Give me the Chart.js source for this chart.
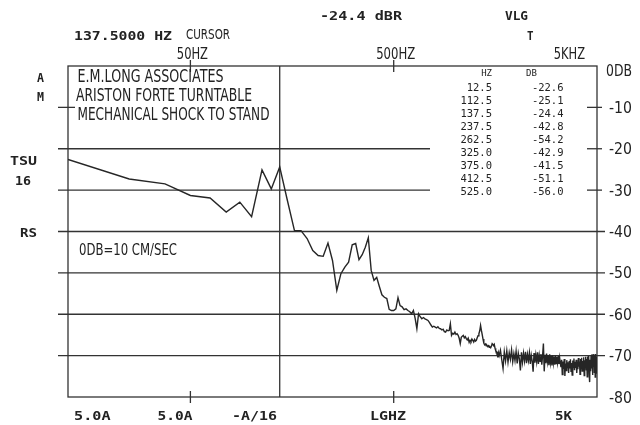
<!DOCTYPE html>
<html lang="en">
<head>
  <meta charset="UTF-8" />
  <title>Ariston Forte turntable - mechanical shock to stand</title>
  <script src="https://cdn.jsdelivr.net/npm/chart.js"></script>
  <style>
    html, body { margin: 0; padding: 0; background: #fff; }
    #wrap { width: 640px; height: 425px; }
  </style>
</head>
<body>
  <div id="wrap"><canvas id="grafico" width="640" height="425"></canvas></div>

  <script>
    // spectrum, 12.5 Hz bins up to 1637.5 Hz
    const bandHz = [
      12.5, 25, 37.5, 50, 62.5, 75, 87.5, 100, 112.5, 125,
      137.5, 150, 162.5, 175, 187.5, 200, 212.5, 225, 237.5, 250,
      262.5, 275, 287.5, 300, 312.5, 325, 337.5, 350, 362.5, 375,
      387.5, 400, 412.5, 425, 437.5, 450, 462.5, 475, 487.5, 500,
      512.5, 525, 537.5, 550, 562.5, 575, 587.5, 600, 612.5, 625,
      637.5, 650, 662.5, 675, 687.5, 700, 712.5, 725, 737.5, 750,
      762.5, 775, 787.5, 800, 812.5, 825, 837.5, 850, 862.5, 875,
      887.5, 900, 912.5, 925, 937.5, 950, 962.5, 975, 987.5, 1000,
      1012.5, 1025, 1037.5, 1050, 1062.5, 1075, 1087.5, 1100, 1112.5, 1125,
      1137.5, 1150, 1162.5, 1175, 1187.5, 1200, 1212.5, 1225, 1237.5, 1250,
      1262.5, 1275, 1287.5, 1300, 1312.5, 1325, 1337.5, 1350, 1362.5, 1375,
      1387.5, 1400, 1412.5, 1425, 1437.5, 1450, 1462.5, 1475, 1487.5, 1500,
      1512.5, 1525, 1537.5, 1550, 1562.5, 1575, 1587.5, 1600, 1612.5, 1625,
      1637.5
    ];
    const bandDb = [
      -22.6, -27.3, -28.5, -31.3, -31.9, -35.3, -32.9, -36.4, -25.1, -29.7,
      -24.4, -32.5, -39.8, -39.8, -41.7, -44.6, -45.8, -46.0, -42.8, -47.0,
      -54.2, -50.2, -48.6, -47.4, -43.2, -42.9, -46.8, -45.6, -43.8, -41.5,
      -49.4, -51.8, -51.1, -53.3, -55.3, -55.9, -56.2, -58.8, -59.1, -59.1,
      -58.7, -56.0, -57.9, -58.2, -58.9, -58.7, -59.1, -59.4, -59.9, -59.1,
      -61.0, -63.5, -59.9, -60.6, -61.1, -60.8, -61.1, -61.3, -61.5, -62.0,
      -62.6, -63.1, -62.9, -63.1, -63.3, -63.0, -63.4, -63.5, -63.8, -63.6,
      -64.2, -64.3, -63.8, -64.0, -63.9, -62.3, -65.1, -64.6, -64.8, -64.3,
      -64.9, -64.7, -65.1, -65.8, -67.1, -65.6, -65.3, -65.1, -65.7, -65.4,
      -65.9, -66.2, -65.8, -66.8, -66.3, -66.6, -66.0, -66.3, -66.7, -66.1,
      -66.5, -66.3, -65.7, -65.2, -64.7, -64.0, -62.7, -63.9, -64.9, -66.0,
      -67.0, -67.4, -67.2, -67.6, -67.5, -67.8, -67.6, -68.0, -67.9, -68.1,
      -67.7, -67.1, -67.3, -67.6, -67.3, -68.2, -68.8, -69.0, -69.2, -70.4,
      -69.3
    ];

    // noisy top end, read every 25 Hz
    const hfHz = [
      1650, 1675, 1700, 1725, 1750, 1775, 1800, 1825, 1850, 1875,
      1900, 1925, 1950, 1975, 2000, 2025, 2050, 2075, 2100, 2125,
      2150, 2175, 2200, 2225, 2250, 2275, 2300, 2325, 2350, 2375,
      2400, 2425, 2450, 2475, 2500, 2525, 2550, 2575, 2600, 2625,
      2650, 2675, 2700, 2725, 2750, 2775, 2800, 2825, 2850, 2875,
      2900, 2925, 2950, 2975, 3000, 3025, 3050, 3075, 3100, 3125,
      3150, 3175, 3200, 3225, 3250, 3275, 3300, 3325, 3350, 3375,
      3400, 3425, 3450, 3475, 3500, 3525, 3550, 3575, 3600, 3625,
      3650, 3675, 3700, 3725, 3750, 3775, 3800, 3825, 3850, 3875,
      3900, 3925, 3950, 3975, 4000, 4025, 4050, 4075, 4100, 4125,
      4150, 4175, 4200, 4225, 4250, 4275, 4300, 4325, 4350, 4375,
      4400, 4425, 4450, 4475, 4500, 4525, 4550, 4575, 4600, 4625,
      4650, 4675, 4700, 4725, 4750, 4775, 4800, 4825, 4850, 4875,
      4900, 4925, 4950, 4975, 5000
    ];
    const hfDb = [
      -70.0, -68.7, -71.0, -73.1, -69.1, -71.3, -68.8, -71.6, -69.3, -70.9,
      -68.6, -71.5, -69.5, -71.2, -68.9, -71.9, -69.4, -70.8, -73.6, -69.2,
      -71.6, -69.4, -71.3, -69.1, -71.8, -69.7, -71.2, -69.3, -72.0, -69.9,
      -71.3, -73.9, -69.4, -71.7, -69.8, -71.5, -69.2, -72.0, -69.9, -71.4,
      -69.6, -72.2, -70.0, -67.1, -73.8, -69.8, -71.8, -69.5, -71.5, -69.9,
      -72.3, -69.7, -71.7, -70.1, -72.4, -69.9, -71.8, -70.2, -72.2, -70.0,
      -71.9, -70.3, -71.7, -70.1, -72.0, -70.5, -71.8, -72.8, -71.0, -74.6,
      -71.4, -73.2, -70.8, -74.9, -71.9, -73.6, -71.1, -72.9, -71.6, -74.2,
      -71.3, -73.1, -70.9, -73.8, -71.8, -74.7, -71.2, -72.8, -70.7, -73.5,
      -71.5, -73.0, -71.0, -74.2, -71.7, -73.3, -70.6, -72.7, -71.4, -74.5,
      -70.8, -73.1, -70.5, -73.7, -71.3, -72.6, -70.4, -74.8, -71.1, -72.9,
      -70.3, -73.4, -70.8, -75.1, -70.2, -73.0, -70.1, -74.3, -76.4, -71.0,
      -73.8, -69.9, -73.1, -69.7, -74.7, -70.4, -72.6, -69.6, -74.0, -70.0,
      -75.2, -69.6, -73.2, -70.2, -74.4
    ];

    // peak table printed at top right
    const peakHz = [12.5, 112.5, 137.5, 237.5, 262.5, 325.0, 375.0, 412.5, 525.0];
    const peakDb = [-22.6, -25.1, -24.4, -42.8, -54.2, -42.9, -41.5, -51.1, -56.0];

    // axes
    const dbTicks = [0, -10, -20, -30, -40, -50, -60, -70, -80];
    const dbTickLabels = ['0DB', '-10', '-20', '-30', '-40', '-50', '-60', '-70', '-80'];
    const freqTicks = [50, 500, 5000];
    const freqTickLabels = ['50HZ', '500HZ', '5KHZ'];
    const softKeys = ['5.0A', '5.0A', '-A/16', 'LGHZ', '5K'];

    const cursorHz = 137.5;
    const cursorDb = -24.4;

    const INK = '#333';
    const SANS = '"DejaVu Sans", sans-serif';
    const MONO = '"DejaVu Sans Mono", monospace';

    // draws text squeezed to a given width (plotter lettering is narrow)
    function fitText(ctx, txt, left, base, w, font) {
      ctx.save();
      ctx.font = font;
      const m = ctx.measureText(txt).width;
      ctx.translate(left, base);
      ctx.scale(w / m, 1);
      ctx.textAlign = 'left';
      ctx.textBaseline = 'alphabetic';
      ctx.fillText(txt, 0, 0);
      ctx.restore();
    }

    function hLine(ctx, x1, x2, y) {
      ctx.beginPath();
      ctx.moveTo(x1, y);
      ctx.lineTo(x2, y);
      ctx.stroke();
    }
    function vLine(ctx, x, y1, y2) {
      ctx.beginPath();
      ctx.moveTo(x, y1);
      ctx.lineTo(x, y2);
      ctx.stroke();
    }

    const plotterFrame = {
      id: 'plotterFrame',
      beforeDatasetsDraw(chart) {
        const { ctx, chartArea: a, scales: { x, y } } = chart;
        ctx.save();
        ctx.strokeStyle = INK;
        ctx.lineWidth = 1.3;

        // frame
        ctx.strokeRect(a.left, a.top, a.right - a.left, a.bottom - a.top);

        // grid lines: the top ones stop short of the text / peak table
        dbTicks.forEach((v) => {
          if (v === 0 || v === -80) return;
          const py = y.getPixelForValue(v);
          if (v === -10) {
            hLine(ctx, a.left - 10, a.left + 7, py);
            hLine(ctx, a.right - 10, a.right + 5, py);
          } else if (v >= -30) {
            hLine(ctx, a.left - 10, 430, py);
            hLine(ctx, a.right - 10, a.right + 5, py);
          } else {
            hLine(ctx, a.left - 10, a.right + 8, py);
          }
        });

        // frequency ticks top and bottom
        freqTicks.forEach((f) => {
          const px = x.getPixelForValue(f);
          if (px >= a.right - 2) return;
          vLine(ctx, px, a.top - 6, a.top + 6);
          vLine(ctx, px, a.bottom - 6, a.bottom + 6);
        });

        // cursor
        vLine(ctx, x.getPixelForValue(cursorHz), a.top, a.bottom);
        ctx.restore();
      },

      afterDraw(chart) {
        const { ctx, chartArea: a, scales: { x, y } } = chart;
        ctx.save();
        ctx.fillStyle = '#222';

        // header line
        fitText(ctx, cursorHz.toFixed(4) + ' HZ', 74, 39.5, 98, 'bold 13px ' + MONO);
        fitText(ctx, 'CURSOR', 186, 38.5, 44, '14px ' + SANS);
        fitText(ctx, cursorDb.toFixed(1) + ' dBR', 320, 20, 82, 'bold 13px ' + MONO);
        fitText(ctx, 'VLG', 505, 20, 23, 'bold 12px ' + MONO);
        fitText(ctx, 'T', 527, 40, 6.5, 'bold 12px ' + MONO);

        // frequency labels above the frame
        freqTicks.forEach((f, i) => {
          const w = freqTickLabels[i].length * 7.8;
          let cx = x.getPixelForValue(f) + 2;
          if (cx + w / 2 > 585) cx = 585 - w / 2;
          fitText(ctx, freqTickLabels[i], cx - w / 2, 58.5, w, '16px ' + SANS);
        });

        // dB labels on the right
        dbTicks.forEach((v, i) => {
          const py = y.getPixelForValue(v);
          if (i === 0) {
            fitText(ctx, dbTickLabels[i], 606, py + 9.5, 26, '16px ' + SANS);
          } else {
            fitText(ctx, dbTickLabels[i], 609, py + 5.5, 23, '16px ' + SANS);
          }
        });

        // left side annotations
        fitText(ctx, 'A', 37, 82, 7, 'bold 13px ' + MONO);
        fitText(ctx, 'M', 37, 101, 7, 'bold 13px ' + MONO);
        fitText(ctx, 'TSU', 10, 165, 27, 'bold 13px ' + MONO);
        fitText(ctx, '16', 15, 185, 16, 'bold 13px ' + MONO);
        fitText(ctx, 'RS', 20, 236.5, 17, 'bold 13px ' + MONO);

        // title block
        fitText(ctx, 'E.M.LONG ASSOCIATES', 77.5, 82, 146, '17px ' + SANS);
        fitText(ctx, 'ARISTON FORTE TURNTABLE', 76, 100.5, 176, '17px ' + SANS);
        fitText(ctx, 'MECHANICAL SHOCK TO STAND', 77.5, 120, 192, '17px ' + SANS);
        fitText(ctx, '0DB=10 CM/SEC', 79, 255, 98, '16px ' + SANS);

        // peak table
        ctx.font = '9px ' + MONO;
        ctx.textAlign = 'right';
        ctx.fillText('HZ', 492, 75.5);
        ctx.textAlign = 'left';
        ctx.fillText('DB', 526, 75.5);
        ctx.font = '10.5px ' + MONO;
        ctx.textAlign = 'right';
        peakHz.forEach((f, i) => {
          const base = 90.7 + i * 13.05;
          ctx.fillText(f.toFixed(1), 492, base);
          ctx.fillText(peakDb[i].toFixed(1), 563.5, base);
        });

        // soft key labels under the frame
        const keyLeft = [74, 157.5, 232, 370, 555];
        const keyWidth = [36.5, 35, 45, 36, 17];
        softKeys.forEach((k, i) => {
          fitText(ctx, k, keyLeft[i], 419.5, keyWidth[i], 'bold 13px ' + MONO);
        });
        ctx.restore();
      }
    };

    const pontos = bandHz.map((f, i) => ({ x: f, y: bandDb[i] }))
      .concat(hfHz.map((f, i) => ({ x: f, y: hfDb[i] })));

    new Chart(document.getElementById('grafico').getContext('2d'), {
      type: 'line',
      data: {
        datasets: [{
          data: pontos,
          borderColor: '#262626',
          borderWidth: 1.4,
          pointRadius: 0,
          tension: 0,
          fill: false
        }]
      },
      options: {
        responsive: false,
        animation: false,
        layout: { padding: { left: 68, right: 43, top: 66, bottom: 28 } },
        plugins: {
          legend: { display: false },
          tooltip: { enabled: false }
        },
        scales: {
          x: { type: 'logarithmic', min: 12.5, max: 5000, display: false },
          y: { type: 'linear', min: -80, max: 0, display: false }
        }
      },
      plugins: [plotterFrame]
    });
  </script>
</body>
</html>
